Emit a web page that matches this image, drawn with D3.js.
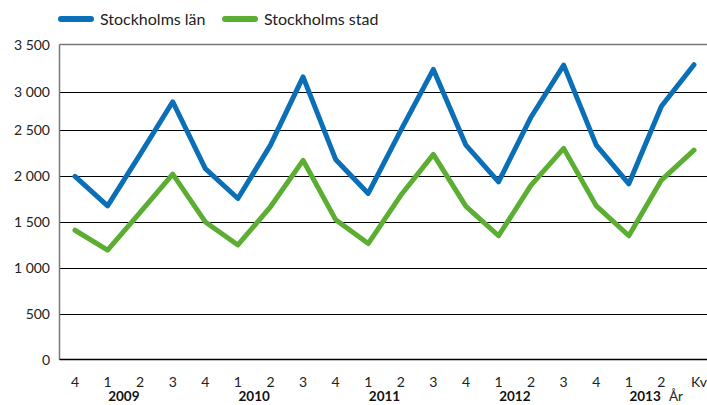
<!DOCTYPE html>
<html>
<head>
<meta charset="utf-8">
<script src="https://cdn.jsdelivr.net/npm/d3@7"></script>
<style>
  body { margin: 0; background: #fff; }
  svg { font-family: Lato, "Open Sans", sans-serif; }
  .grid line { stroke: #000; stroke-width: 1; }
  .series { fill: none; stroke-width: 5; stroke-linejoin: round; stroke-linecap: round; }
</style>
</head>
<body>
<svg id="chart" width="707" height="405"></svg>
<script>
// quarters 2008 Q4 - 2013 Q3
const quarters = ['2008-4',
  '2009-1', '2009-2', '2009-3', '2009-4',
  '2010-1', '2010-2', '2010-3', '2010-4',
  '2011-1', '2011-2', '2011-3', '2011-4',
  '2012-1', '2012-2', '2012-3', '2012-4',
  '2013-1', '2013-2', '2013-3'];
const years = ['2009', '2010', '2011', '2012', '2013'];
const lan = [1990, 1670, 2230, 2865, 2075, 1750, 2330, 3155, 2175, 1805,
  2490, 3235, 2330, 1930, 2665, 3280, 2330, 1910, 2805, 3285];
const stad = [1405, 1190, 1600, 2015, 1495, 1245, 1660, 2165, 1520, 1260,
  1785, 2230, 1665, 1345, 1895, 2295, 1670, 1345, 1950, 2275];
const yTicks = [0, 500, 1000, 1500, 2000, 2500, 3000, 3500];
const series = [
  {name: 'Stockholms län', values: lan, color: '#0a6fb6'},
  {name: 'Stockholms stad', values: stad, color: '#5bae32'}
];

const svg = d3.select('#chart');
const plotLeft = 59.5, plotRight = 707, plotTop = 44.5, plotBottom = 359.5;

// the gridlines in the picture are not evenly spaced above 2 500
const y = d3.scaleLinear()
  .domain([0, 2500, 3000, 3500])
  .range([plotBottom, 129.5, 91.5, plotTop]);
const x = d3.scalePoint()
  .domain(quarters)
  .range([75, 694]);

const fmt = d => d3.format(',')(d).replace(',', ' ');

// gridlines
svg.append('g')
  .attr('class', 'grid')
  .selectAll('line')
  .data(yTicks.filter(d => d > 0 && d < 3500))
  .join('line')
  .attr('x1', plotLeft)
  .attr('x2', plotRight)
  .attr('y1', d => Math.round(y(d)) + 0.5)
  .attr('y2', d => Math.round(y(d)) + 0.5);

// frame
svg.append('line')
  .attr('x1', plotLeft).attr('x2', plotRight)
  .attr('y1', plotTop).attr('y2', plotTop)
  .attr('stroke', '#777').attr('stroke-width', 1.5);
svg.append('line')
  .attr('x1', plotLeft).attr('x2', plotLeft)
  .attr('y1', plotTop).attr('y2', plotBottom)
  .attr('stroke', '#777').attr('stroke-width', 1.5);
svg.append('line')
  .attr('x1', plotLeft).attr('x2', plotRight)
  .attr('y1', plotBottom).attr('y2', plotBottom)
  .attr('stroke', '#000').attr('stroke-width', 1.5);

// y axis labels
svg.append('g')
  .selectAll('text')
  .data(yTicks)
  .join('text')
  .attr('x', 50)
  .attr('y', d => y(d) + 5)
  .attr('text-anchor', 'end')
  .attr('font-size', 14)
  .attr('fill', '#222')
  .text(fmt);

// x axis labels
svg.append('g')
  .selectAll('text')
  .data(quarters.slice(0, -1))
  .join('text')
  .attr('x', d => x(d))
  .attr('y', 387)
  .attr('text-anchor', 'middle')
  .attr('font-size', 14)
  .attr('fill', '#222')
  .text(d => d.split('-')[1]);
svg.append('g')
  .selectAll('text')
  .data(years)
  .join('text')
  .attr('x', d => (x(d + '-1') + x(d + '-2')) / 2)
  .attr('y', 401)
  .attr('text-anchor', 'middle')
  .attr('font-size', 13.5)
  .attr('font-weight', 'bold')
  .attr('fill', '#111')
  .text(d => d);
svg.append('text')
  .attr('x', 699).attr('y', 387)
  .attr('text-anchor', 'middle')
  .attr('font-size', 14).attr('fill', '#222')
  .text('Kv');
svg.append('text')
  .attr('x', 669).attr('y', 401)
  .attr('font-size', 13.5).attr('fill', '#222')
  .text('År');

// lines
const line = d3.line()
  .x((d, i) => x(quarters[i]))
  .y(d => y(d));
svg.append('g')
  .selectAll('path')
  .data(series)
  .join('path')
  .attr('class', 'series')
  .attr('stroke', d => d.color)
  .attr('d', d => line(d.values));

// legend
const legend = svg.append('g')
  .selectAll('g')
  .data(series)
  .join('g')
  .attr('transform', (d, i) => `translate(${[61, 225][i]},19)`);
legend.append('line')
  .attr('x1', 0).attr('x2', 30)
  .attr('stroke', d => d.color)
  .attr('stroke-width', 6)
  .attr('stroke-linecap', 'round');
legend.append('text')
  .attr('x', 39).attr('y', 6)
  .attr('font-size', 16)
  .attr('fill', '#222')
  .text(d => d.name);
</script>
</body>
</html>
